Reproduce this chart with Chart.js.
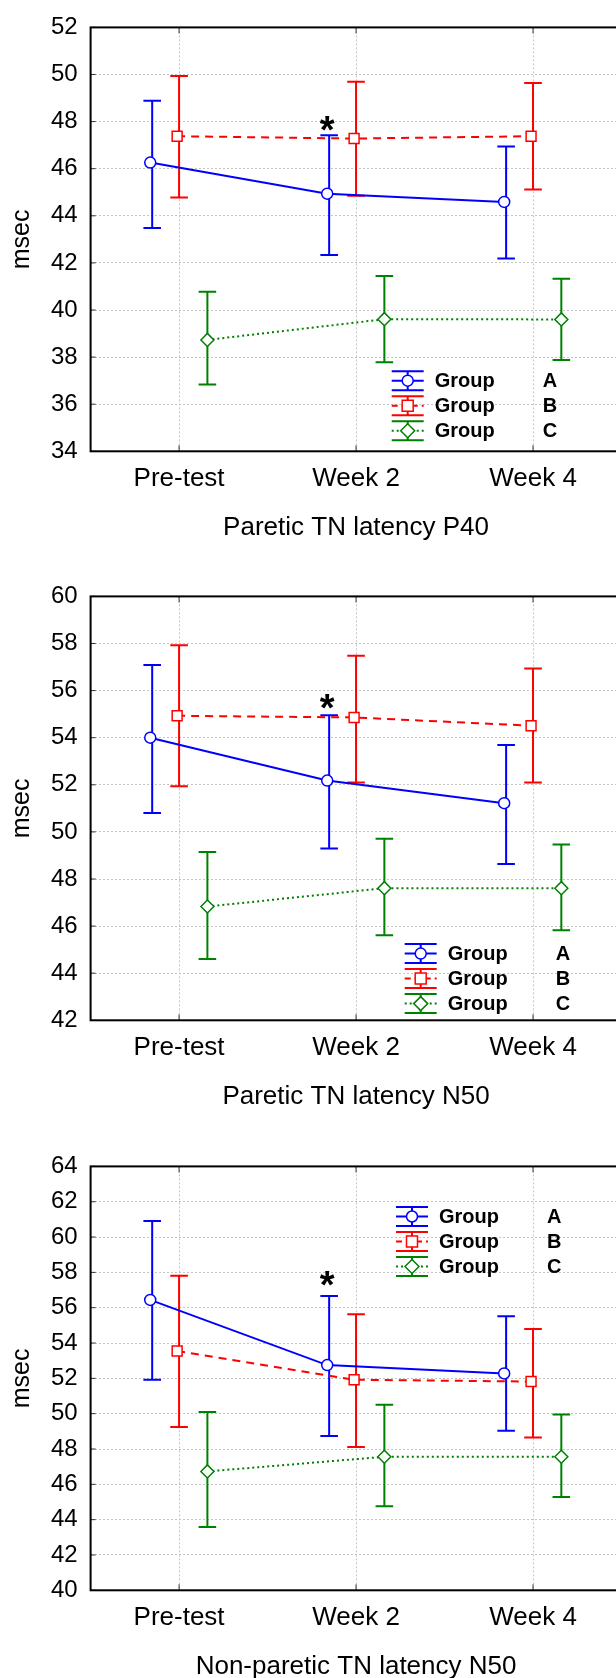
<!DOCTYPE html>
<html>
<head>
<meta charset="utf-8">
<script src="https://cdn.jsdelivr.net/npm/chart.js@4.4.1/dist/chart.umd.min.js"></script>
<style>
  html, body { margin: 0; padding: 0; width: 616px; height: 1678px; overflow: hidden; background: #fff; }
  canvas { position: absolute; left: 0; }
</style>
</head>
<body>
<canvas id="p40" width="630" height="570" style="top:0px"></canvas>
<canvas id="n50" width="630" height="570" style="top:569px"></canvas>
<canvas id="np50" width="630" height="570" style="top:1139px"></canvas>
<script>
// categories and groups
const categories = ['Pre-test', 'Week 2', 'Week 4'];
const groupLetters = ['A', 'B', 'C'];

// Paretic TN latency P40
const p40MeanA = [46.26, 44.94, 44.59];
const p40HiA = [48.89, 47.42, 46.94];
const p40LoA = [43.48, 42.34, 42.19];
const p40MeanB = [47.38, 47.28, 47.38];
const p40HiB = [49.94, 49.69, 49.64];
const p40LoB = [44.78, 44.85, 45.12];
const p40MeanC = [38.73, 39.61, 39.60];
const p40HiC = [40.77, 41.44, 41.33];
const p40LoC = [36.84, 37.78, 37.88];

// Paretic TN latency N50
const n50MeanA = [54.00, 52.18, 51.22];
const n50HiA = [57.09, 54.95, 53.69];
const n50LoA = [50.80, 49.30, 48.64];
const n50MeanB = [54.93, 54.86, 54.51];
const n50HiB = [57.93, 57.48, 56.94];
const n50LoB = [51.94, 52.10, 52.10];
const n50MeanC = [46.83, 47.61, 47.61];
const n50HiC = [49.15, 49.71, 49.47];
const n50LoC = [44.60, 45.61, 45.82];

// Non-paretic TN latency N50
const np50MeanA = [56.44, 52.75, 52.28];
const np50HiA = [60.91, 56.66, 55.51];
const np50LoA = [51.92, 48.73, 49.03];
const np50MeanB = [53.55, 51.92, 51.82];
const np50HiB = [57.81, 55.63, 54.80];
const np50LoB = [49.24, 48.11, 48.65];
const np50MeanC = [46.73, 47.56, 47.56];
const np50HiC = [50.10, 50.51, 49.96];
const np50LoC = [43.59, 44.76, 45.28];

// y ranges, titles and the "*" marks (value at Week 2, group A)
const yRanges = [[34, 52], [42, 60], [40, 64]];
const titles = ['Paretic TN latency P40', 'Paretic TN latency N50', 'Non-paretic TN latency N50'];
const starValues = [48.0, 55.65, 57.75];

const FONT = "'Liberation Sans', Arial, sans-serif";
const colors = ['#0000ff', '#ff0000', '#008000'];
const dashes = [[], [8, 6], [2, 3]];
const pointStyles = ['circle', 'rect', 'rectRot'];
const pointRadii = [5.5, 7, 6.5];
const markerOff = [-0.163, -0.011, 0.16];
const barOff = [-0.152, 0, 0.16];
const CAP = 8.8;

function drawMarker(ctx, style, x, y, color) {
  ctx.save();
  ctx.fillStyle = '#fff';
  ctx.strokeStyle = color;
  ctx.lineWidth = 1.5;
  ctx.setLineDash([]);
  ctx.beginPath();
  if (style === 'circle') {
    ctx.arc(x, y, 5.5, 0, Math.PI * 2);
  } else if (style === 'rect') {
    ctx.rect(x - 5.5, y - 5.5, 11, 11);
  } else {
    ctx.moveTo(x, y - 7); ctx.lineTo(x + 7, y); ctx.lineTo(x, y + 7); ctx.lineTo(x - 7, y); ctx.closePath();
  }
  ctx.fill();
  ctx.stroke();
  ctx.restore();
}

function makeDecor(bars, star, legendPos) {
  return {
    id: 'decor',
    beforeDatasetsDraw(chart) {
      const {ctx, scales: {x, y}} = chart;
      bars.forEach((b, g) => {
        ctx.save();
        ctx.strokeStyle = colors[g];
        ctx.lineWidth = 2;
        b.lo.forEach((lo, i) => {
          const px = x.getPixelForValue(i + barOff[g]);
          const y1 = y.getPixelForValue(lo);
          const y2 = y.getPixelForValue(b.hi[i]);
          ctx.beginPath();
          ctx.moveTo(px, y1); ctx.lineTo(px, y2);
          ctx.moveTo(px - CAP, y1); ctx.lineTo(px + CAP, y1);
          ctx.moveTo(px - CAP, y2); ctx.lineTo(px + CAP, y2);
          ctx.stroke();
        });
        ctx.restore();
      });
    },
    afterDraw(chart) {
      const {ctx, chartArea: a, scales: {x, y}} = chart;
      ctx.save();
      // inner tick marks
      ctx.strokeStyle = '#333';
      ctx.lineWidth = 1;
      ctx.beginPath();
      y.ticks.forEach(t => {
        const py = y.getPixelForValue(t.value);
        ctx.moveTo(a.left, py); ctx.lineTo(a.left + 5, py);
      });
      x.ticks.forEach(t => {
        const px = x.getPixelForValue(t.value);
        ctx.moveTo(px, a.top); ctx.lineTo(px, a.top + 6);
        ctx.moveTo(px, a.bottom); ctx.lineTo(px, a.bottom - 6);
      });
      ctx.stroke();
      // frame
      ctx.strokeStyle = '#000';
      ctx.lineWidth = 2;
      ctx.strokeRect(a.left, a.top, a.right - a.left, a.bottom - a.top);
      // asterisk
      ctx.fillStyle = '#000';
      ctx.font = 'bold 38px ' + FONT;
      ctx.textAlign = 'center';
      ctx.textBaseline = 'alphabetic';
      ctx.fillText('*', x.getPixelForValue(1 + markerOff[0]), y.getPixelForValue(star) + 0.57 * 38);
      // legend
      groupLetters.forEach((letter, g) => {
        const lx = legendPos[0], ly = legendPos[1] + g * 25, cx = lx + 16;
        ctx.strokeStyle = colors[g];
        ctx.lineWidth = 2;
        ctx.setLineDash([]);
        ctx.beginPath();
        ctx.moveTo(lx, ly - 9.5); ctx.lineTo(lx + 32, ly - 9.5);
        ctx.moveTo(lx, ly + 9.5); ctx.lineTo(lx + 32, ly + 9.5);
        ctx.moveTo(cx, ly - 9.5); ctx.lineTo(cx, ly + 9.5);
        ctx.stroke();
        ctx.setLineDash(g === 1 ? [6, 4] : dashes[g]);
        ctx.beginPath();
        ctx.moveTo(lx, ly); ctx.lineTo(lx + 32, ly);
        ctx.stroke();
        ctx.setLineDash([]);
        drawMarker(ctx, pointStyles[g], cx, ly, colors[g]);
        ctx.fillStyle = '#000';
        ctx.font = 'bold 20px ' + FONT;
        ctx.textAlign = 'left';
        ctx.textBaseline = 'middle';
        ctx.fillText('Group', lx + 43, ly + 1);
        ctx.fillText(letter, lx + 151, ly + 1);
      });
      ctx.restore();
    }
  };
}

function makePanel(id, means, his, los, range, title, star, legendPos) {
  const datasets = means.map((m, g) => ({
    data: m.map((v, i) => ({x: i + markerOff[g], y: v})),
    borderColor: colors[g],
    borderWidth: 2,
    borderDash: dashes[g],
    tension: 0,
    fill: false,
    pointStyle: pointStyles[g],
    pointRadius: pointRadii[g],
    pointBackgroundColor: '#fff',
    pointBorderColor: colors[g],
    pointBorderWidth: 1.5
  }));
  const bars = his.map((h, g) => ({hi: h, lo: los[g]}));
  const gridOpts = {color: '#c4c4c4', lineWidth: 1, drawTicks: false};
  new Chart(document.getElementById(id), {
    type: 'line',
    data: {datasets},
    options: {
      responsive: false,
      animation: false,
      layout: {padding: {top: 25.7, right: 5.5, left: 0, bottom: 0}},
      plugins: {legend: {display: false}, tooltip: {enabled: false}},
      scales: {
        x: {
          type: 'linear',
          min: -0.5,
          max: 2.5,
          afterBuildTicks: s => { s.ticks = categories.map((_, i) => ({value: i})); },
          afterFit: s => { s.height = 118.7; },
          ticks: {
            callback: v => categories[v],
            font: {family: FONT, size: 26},
            color: '#000',
            padding: 12,
            maxRotation: 0,
            autoSkip: false
          },
          grid: gridOpts,
          border: {display: false, dash: [2, 2]},
          title: {display: true, text: title, font: {family: FONT, size: 26}, color: '#000', padding: {top: 0, bottom: 26.4}}
        },
        y: {
          min: range[0],
          max: range[1],
          afterFit: s => { s.width = 90.6; },
          ticks: {stepSize: 2, font: {family: FONT, size: 24}, color: '#000', padding: 13},
          grid: gridOpts,
          border: {display: false, dash: [2, 2]},
          title: {display: true, text: 'msec', font: {family: FONT, size: 25}, color: '#000', padding: {top: 7.5, bottom: 0}}
        }
      }
    },
    plugins: [makeDecor(bars, star, legendPos)]
  });
}

makePanel('p40', [p40MeanA, p40MeanB, p40MeanC], [p40HiA, p40HiB, p40HiC], [p40LoA, p40LoB, p40LoC],
  yRanges[0], titles[0], starValues[0], [391.7, 380.7]);
makePanel('n50', [n50MeanA, n50MeanB, n50MeanC], [n50HiA, n50HiB, n50HiC], [n50LoA, n50LoB, n50LoC],
  yRanges[1], titles[1], starValues[1], [404.7, 384.6]);
makePanel('np50', [np50MeanA, np50MeanB, np50MeanC], [np50HiA, np50HiB, np50HiC], [np50LoA, np50LoB, np50LoC],
  yRanges[2], titles[2], starValues[2], [396, 77.5]);
</script>
</body>
</html>
